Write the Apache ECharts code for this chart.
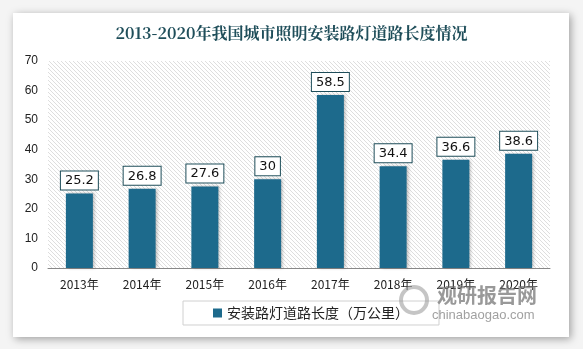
<!DOCTYPE html>
<html><head><meta charset="utf-8">
<script src="https://cdn.jsdelivr.net/npm/echarts@6/dist/echarts.min.js"></script>
<style>html,body{margin:0;padding:0;background:#fff;}#c{width:583px;height:349px;}</style>
</head><body><div id="c"></div>
<script>
var title = '2013-2020年我国城市照明安装路灯道路长度情况';
var categories = ['2013年','2014年','2015年','2016年','2017年','2018年','2019年','2020年'];
var values = [25.2, 26.8, 27.6, 30, 58.5, 34.4, 36.6, 38.6];
var seriesName = '安装路灯道路长度（万公里）';
var yTicks = [0,10,20,30,40,50,60,70];

var pc = document.createElement('canvas');
pc.width = 4; pc.height = 4;
var ctx = pc.getContext('2d');
ctx.fillStyle = '#ffffff'; ctx.fillRect(0,0,4,4);
ctx.strokeStyle = '#d6d6d6'; ctx.lineWidth = 0.8;
ctx.beginPath();
ctx.moveTo(0,0); ctx.lineTo(4,4);
ctx.moveTo(-2,2); ctx.lineTo(2,6);
ctx.moveTo(2,-2); ctx.lineTo(6,2);
ctx.stroke();

var chart = echarts.init(document.getElementById('c'));
chart.setOption({
  animation: false,
  backgroundColor: '#f4f4f4',
  graphic: [
    {type:'rect', z:-10, shape:{x:13,y:13,width:556,height:324}, style:{fill:'#ffffff', shadowBlur:8, shadowColor:'rgba(0,0,0,0.35)', shadowOffsetX:2, shadowOffsetY:2}},
    {type:'text', z:50, left:437, top:285, style:{text:'观研报告网', fill:'rgba(110,110,110,0.7)', font:'bold 20px "Noto Sans CJK SC"'}},
    {type:'text', z:50, left:432, top:309, style:{text:'chinabaogao.com', fill:'rgba(120,120,120,0.7)', font:'13px "Liberation Sans"'}},
    {type:'circle', z:50, shape:{cx:414,cy:300,r:13}, style:{fill:'none', stroke:'rgba(150,150,150,0.55)', lineWidth:4}}
  ],
  title: {text: title, left:'center', top:20, textStyle:{color:'#1f4e5a', fontSize:16, fontWeight:'bold', fontFamily:'"Noto Serif CJK SC","Noto Sans CJK SC",serif'}},
  grid: {left:48, right:33, top:61, bottom:81, show:true, borderWidth:0, backgroundColor:{image:pc, repeat:'repeat'}},
  legend: {data:[seriesName], left:183, top:301, itemWidth:9, itemHeight:9, itemGap:6, icon:'rect',
    padding:[5,30,5,30], borderColor:'#d0d0d0', borderWidth:1, textStyle:{fontSize:14, color:'#222', fontFamily:'"Noto Sans CJK SC"'}},
  xAxis: {type:'category', data:categories, axisTick:{show:false}, axisLine:{lineStyle:{color:'#888'}},
    axisLabel:{color:'#222', fontSize:12, margin:10, fontFamily:'"Noto Sans CJK SC"'}},
  yAxis: {type:'value', min:yTicks[0], max:yTicks[yTicks.length-1], interval:10, splitLine:{show:false},
    axisLine:{show:false}, axisTick:{show:false}, axisLabel:{color:'#222', fontSize:12, margin:10, fontFamily:'"Liberation Sans"'}},
  series: [{
    name: seriesName, type:'bar', data: values, barWidth:27,
    itemStyle:{color:'#1d6a8c', shadowColor:'rgba(0,0,0,0.25)', shadowBlur:3, shadowOffsetX:2, shadowOffsetY:0},
    label:{show:true, position:'top', distance:4, color:'#111', fontSize:13, fontFamily:'"DejaVu Sans"',
      backgroundColor:'#fff', borderColor:'#1f4e5a', borderWidth:1, padding:[3,4,2,4]}
  }]
});
</script></body></html>
